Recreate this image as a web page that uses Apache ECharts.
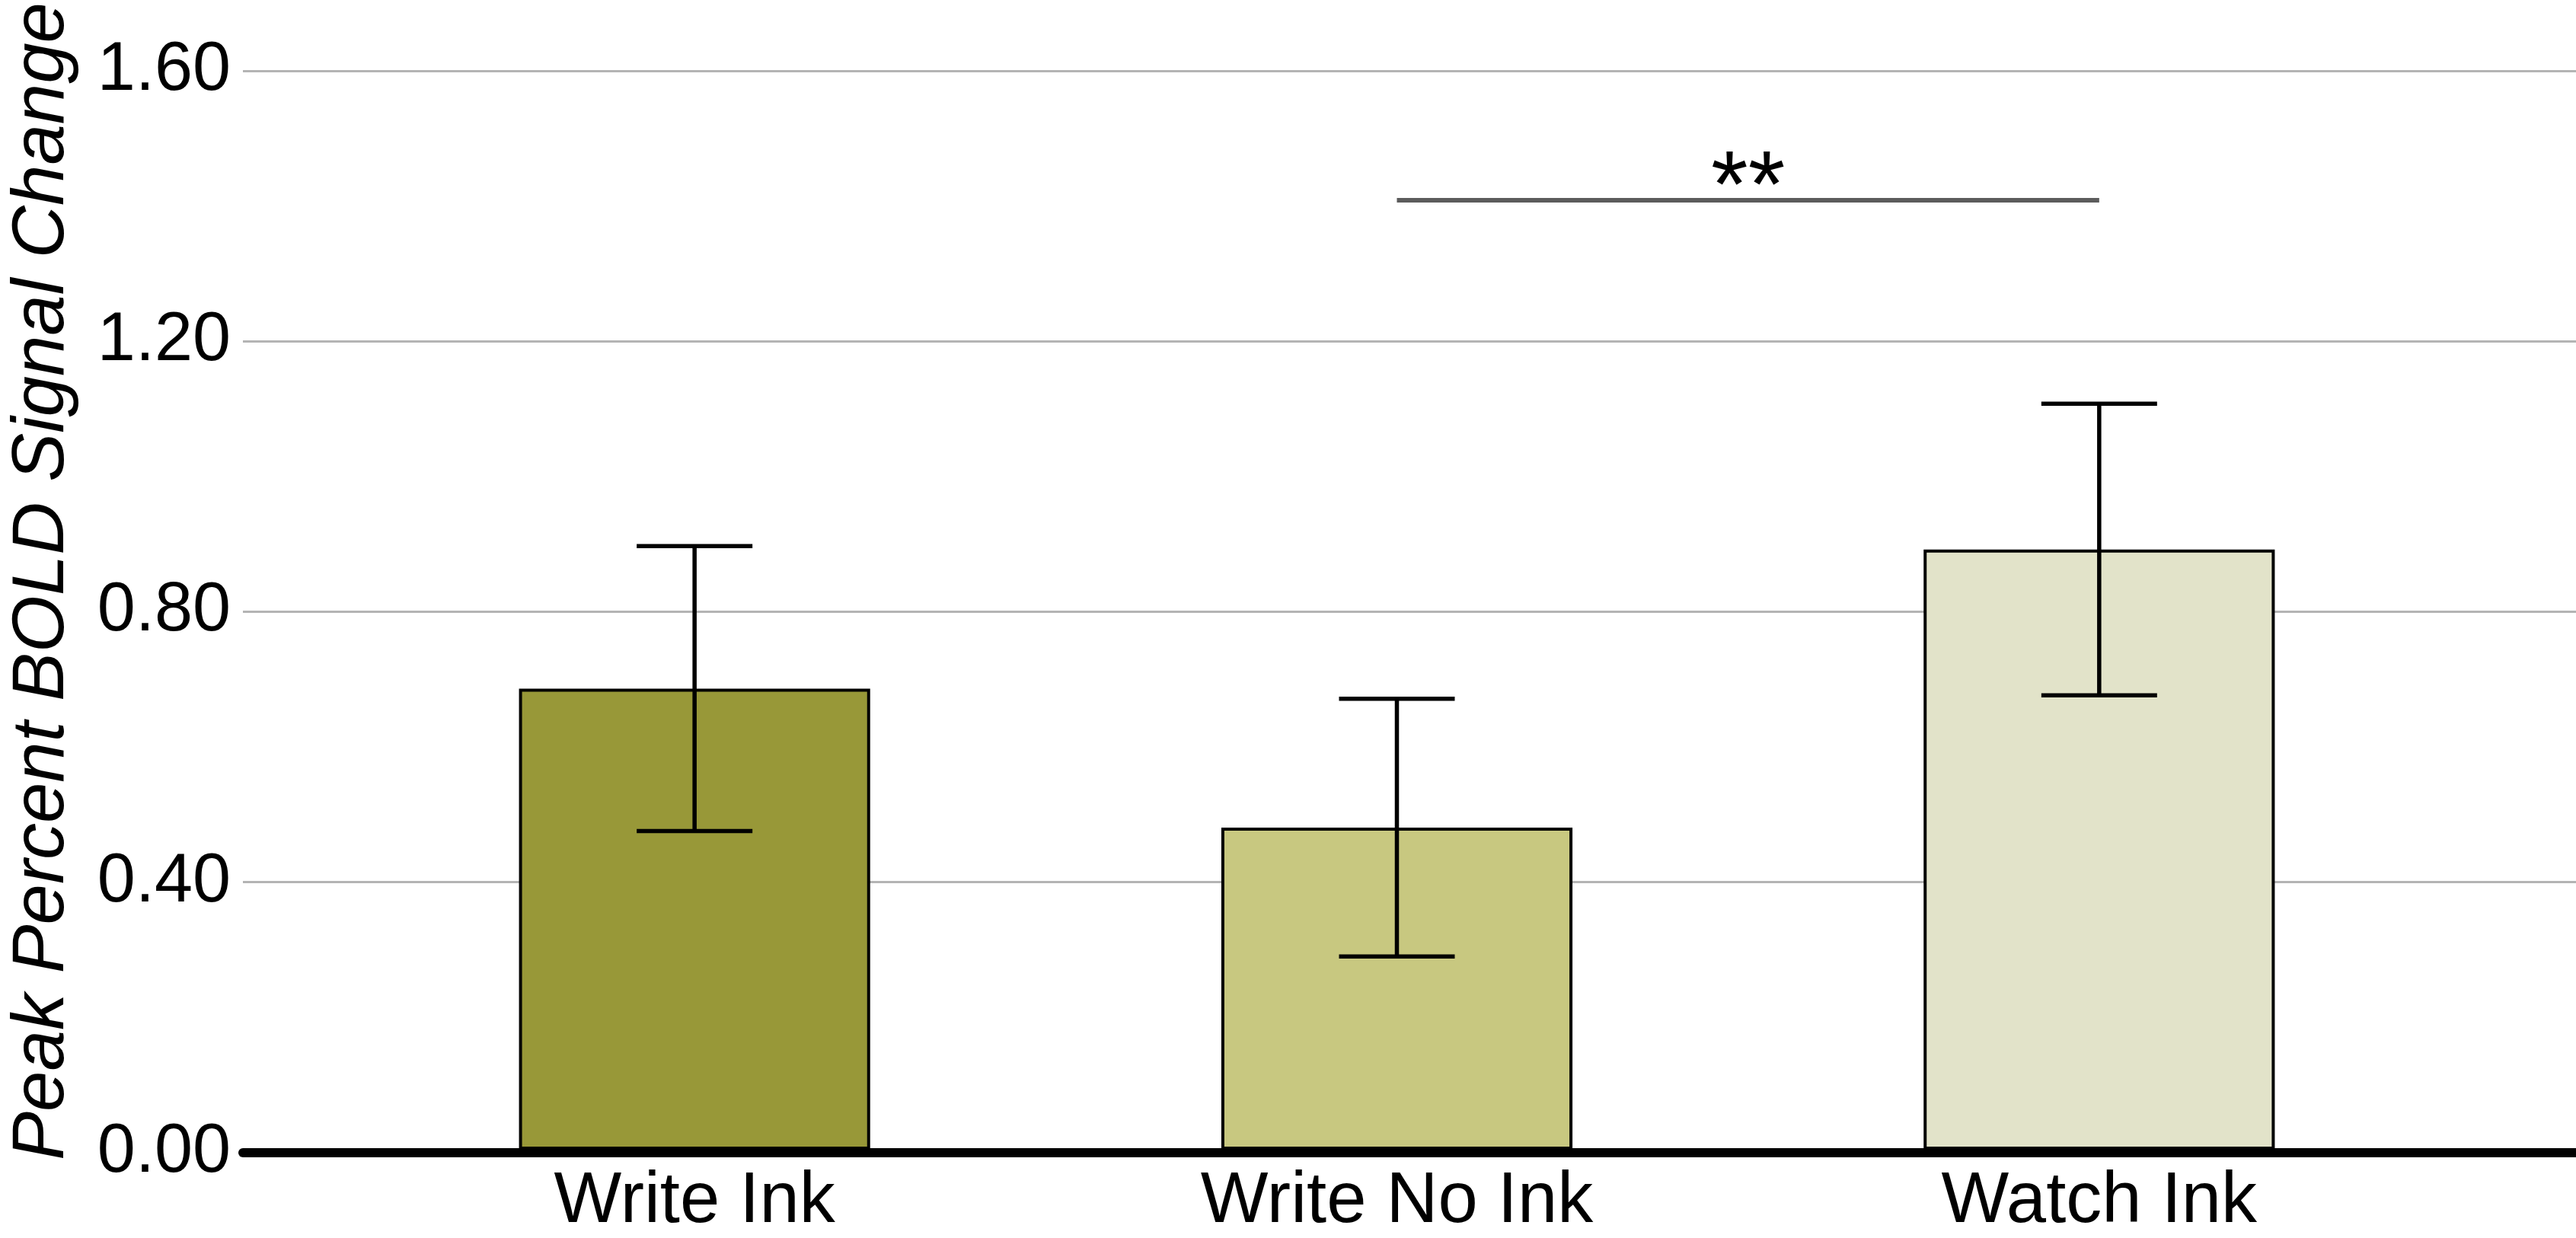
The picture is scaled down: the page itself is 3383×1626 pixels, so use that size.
<!DOCTYPE html>
<html>
<head>
<meta charset="utf-8">
<script src="https://cdn.jsdelivr.net/npm/echarts@6/dist/echarts.min.js"></script>
<style>
    html, body { margin: 0; padding: 0; background: #fff; }
    #chart { width: 3383px; height: 1626px; }
</style>
</head>
<body>
<div id="chart"></div>
<script>
// data
const categories = ['Write Ink', 'Write No Ink', 'Watch Ink'];
const means = [0.68, 0.475, 0.885];
const sem = [0.21, 0.19, 0.215];
const barColors = ['#989838', '#c8c880', '#e2e3c9'];
const yTicks = [0, 0.4, 0.8, 1.2, 1.6];
const sigPair = ['Write No Ink', 'Watch Ink'];
const sigLevel = 1.40;
const sigLabel = '**';

const FONT = '"Liberation Sans", Arial, sans-serif';

const errData = means.map((m, i) => [i, m - sem[i], m + sem[i]]);

const chart = echarts.init(document.getElementById('chart'));

chart.setOption({
    backgroundColor: '#fff',
    animation: false,
    grid: [
        // full-width grid: gridlines, y labels, baseline
        {left: 313, right: 0, top: 85, bottom: 112},
        // bar area
        {left: 451, right: 165, top: 85, bottom: 112}
    ],
    xAxis: [
        {
            gridIndex: 0,
            type: 'category',
            data: categories,
            z: 5,
            axisLine: {show: true, lineStyle: {color: '#000', width: 12}},
            axisTick: {show: false},
            axisLabel: {show: false},
            splitLine: {show: false}
        },
        {
            gridIndex: 1,
            type: 'category',
            data: categories,
            axisLine: {show: false},
            axisTick: {show: false},
            axisLabel: {
                margin: 22,
                color: '#000',
                fontSize: 94,
                fontFamily: FONT
            }
        }
    ],
    yAxis: [
        {
            gridIndex: 0,
            type: 'value',
            min: yTicks[0],
            max: yTicks[yTicks.length - 1],
            interval: 0.4,
            name: 'Peak Percent BOLD Signal Change',
            nameLocation: 'middle',
            nameGap: 215,
            nameTextStyle: {
                color: '#000',
                fontSize: 96,
                fontStyle: 'italic',
                fontFamily: FONT,
                padding: [0, 0, 0, 80]
            },
            axisLine: {show: false},
            axisTick: {show: false},
            axisLabel: {
                margin: 16,
                color: '#000',
                fontSize: 90,
                fontFamily: FONT,
                formatter: v => v.toFixed(2)
            },
            splitLine: {lineStyle: {color: '#b4b4b4', width: 3}}
        },
        {
            gridIndex: 1,
            type: 'value',
            min: yTicks[0],
            max: yTicks[yTicks.length - 1],
            interval: 0.4,
            show: false,
            splitLine: {show: false}
        }
    ],
    series: [
        {
            type: 'bar',
            xAxisIndex: 1,
            yAxisIndex: 1,
            barWidth: '50%',
            data: means.map((v, i) => ({
                value: v,
                itemStyle: {color: barColors[i]}
            })),
            itemStyle: {borderColor: '#000', borderWidth: 4},
            markLine: {
                silent: true,
                symbol: 'none',
                lineStyle: {color: '#5c5c5c', width: 6, type: 'solid'},
                label: {
                    show: true,
                    position: 'middle',
                    formatter: sigLabel,
                    color: '#000',
                    fontSize: 125,
                    lineHeight: 26,
                    fontFamily: FONT,
                    distance: 0
                },
                data: [[
                    {coord: [sigPair[0], sigLevel]},
                    {coord: [sigPair[1], sigLevel]}
                ]]
            }
        },
        {
            type: 'custom',
            xAxisIndex: 1,
            yAxisIndex: 1,
            z: 4,
            data: errData,
            renderItem: (params, api) => {
                const x = api.value(0);
                const lo = api.coord([x, api.value(1)]);
                const hi = api.coord([x, api.value(2)]);
                const half = 76;
                const style = {stroke: '#000', lineWidth: 5.5};
                return {
                    type: 'group',
                    children: [
                        {type: 'line', shape: {x1: lo[0], y1: lo[1], x2: hi[0], y2: hi[1]}, style},
                        {type: 'line', shape: {x1: hi[0] - half, y1: hi[1], x2: hi[0] + half, y2: hi[1]}, style},
                        {type: 'line', shape: {x1: lo[0] - half, y1: lo[1], x2: lo[0] + half, y2: lo[1]}, style}
                    ]
                };
            }
        }
    ]
});
</script>
</body>
</html>
